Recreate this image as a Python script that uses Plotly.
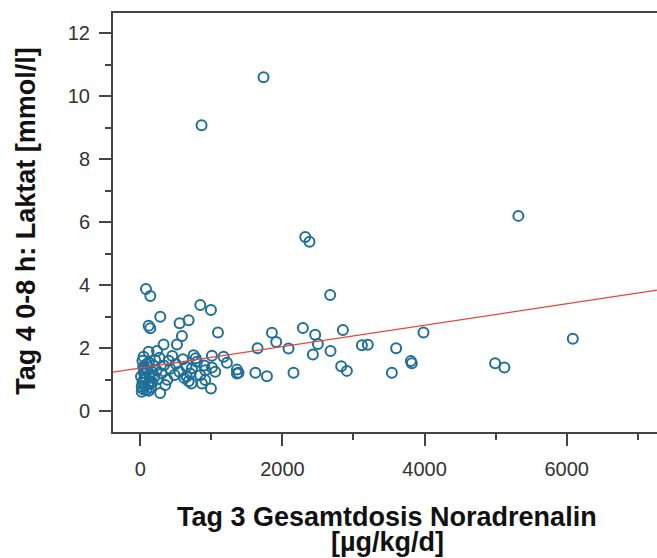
import plotly.graph_objects as go

# Tag 3 Gesamtdosis Noradrenalin [µg/kg/d]
noradrenalin = [
    1734, 862, 2321, 2381, 5320, 2672, 80, 141, 281, 117, 141, 553, 680, 586, 516, 328,
    117, 235, 46, 844, 994, 1093, 3985, 3600, 3807, 3821, 3540, 4993, 5124, 6086,
    1852, 1913, 1650, 2086, 2288, 2461, 2499, 2429, 2677, 2851, 3118, 3202, 2827, 2907,
    1620, 1782, 2156, 1172, 1219, 1360, 1383, 1008, 750, 797, 727, 1008, 914, 844, 914, 994,
    867, 1055, 653, 1360,
    20, 40, 60, 30, 50, 80, 10, 70, 100, 40, 90, 30, 120, 150, 110, 140, 130, 160, 60, 180,
    20, 90, 50, 120, 200, 170, 230, 250, 210, 280, 352, 300, 330, 270, 400, 380, 420, 450,
    500, 480, 550, 600, 620, 650, 700, 680, 720, 780, 900,
]
# Tag 4 0-8 h: Laktat [mmol/l]
laktat = [
    10.6, 9.08, 5.53, 5.38, 6.2, 3.69, 3.88, 3.66, 3.0, 2.71, 2.63, 2.79, 2.89, 2.39, 2.12, 2.12,
    1.89, 1.91, 1.73, 3.37, 3.21, 2.50, 2.50, 2.0, 1.59, 1.52, 1.22, 1.52, 1.39, 2.30,
    2.49, 2.20, 2.00, 1.99, 2.64, 2.43, 2.13, 1.80, 1.91, 2.58, 2.09, 2.11, 1.43, 1.28,
    1.22, 1.11, 1.22, 1.73, 1.54, 1.32, 1.22, 1.76, 1.78, 1.57, 1.36, 1.39, 1.30, 1.14, 0.99, 0.72,
    0.88, 1.25, 1.10, 1.20,
    0.62, 0.70, 0.80, 0.90, 1.00, 1.05, 1.10, 1.20, 1.30, 1.40, 1.50, 1.60, 0.65, 0.75, 0.85, 0.95, 1.15, 1.25, 1.35, 1.45,
    0.78, 0.68, 1.22, 1.55, 1.10, 0.92, 1.30, 1.02, 1.62, 0.58, 0.83, 1.20, 1.45, 1.70, 1.60, 1.00, 1.35, 1.75,
    1.50, 1.15, 1.25, 1.65, 1.05, 1.40, 1.20, 0.95, 0.88, 1.68, 1.45,
]

# linear fit line (intercept, slope)
fit_intercept = 1.37
fit_slope = 0.00034

x_range = [-384, 7271]
y_range = [-0.66, 12.64]
x_ticks = [0, 2000, 4000, 6000]
y_ticks = [0, 2, 4, 6, 8, 10, 12]

x_title_lines = ["Tag 3 Gesamtdosis Noradrenalin", "[µg/kg/d]"]
y_title = "Tag 4 0-8 h: Laktat [mmol/l]"

fit_x = x_range
fit_y = [fit_intercept + fit_slope * v for v in fit_x]

fig = go.Figure()
fig.add_trace(go.Scatter(
    x=noradrenalin, y=laktat, mode="markers",
    marker=dict(symbol="circle-open", size=10, color="#1f6f98", line=dict(width=2, color="#1f6f98")),
    showlegend=False, hoverinfo="x+y",
))
fig.add_trace(go.Scatter(
    x=fit_x, y=fit_y, mode="lines",
    line=dict(color="#e8453c", width=1.2), showlegend=False,
))

axis_common = dict(
    showgrid=False, zeroline=False, showline=True, linecolor="#444", linewidth=2,
    ticks="outside", ticklen=12, tickwidth=2, tickcolor="#444",
    tickfont=dict(family="Liberation Sans, Arial, sans-serif", size=20, color="#333"),
)
fig.update_xaxes(
    range=x_range, tickvals=x_ticks, mirror=True, ticklabelstandoff=6,
    minor=dict(ticks="outside", ticklen=6, tickwidth=2, tickcolor="#444", dtick=1000, tick0=0),
    **axis_common,
)
fig.update_yaxes(
    range=y_range, tickvals=y_ticks, mirror=False, ticklabelstandoff=5,
    minor=dict(ticks="outside", ticklen=6, tickwidth=2, tickcolor="#444", dtick=1, tick0=0),
    **axis_common,
)

title_font = dict(family="Liberation Sans, Arial, sans-serif", size=27, color="#111")
fig.update_layout(
    width=657, height=558,
    margin=dict(l=113, r=0, t=13, b=126),
    paper_bgcolor="white", plot_bgcolor="white",
    annotations=[
        dict(text="<b>%s</b>" % x_title_lines[0], xref="paper", yref="paper",
             x=0.504, y=-0.203, xanchor="center", yanchor="middle", showarrow=False,
             font=title_font),
        dict(text="<b>%s</b>" % x_title_lines[1], xref="paper", yref="paper",
             x=0.504, y=-0.262, xanchor="center", yanchor="middle", showarrow=False,
             font=title_font),
        dict(text="<b>%s</b>" % y_title, xref="paper", yref="paper",
             x=-0.16, y=0.504, xanchor="center", yanchor="middle", showarrow=False,
             textangle=-90, font=dict(family="Liberation Sans, Arial, sans-serif", size=27, color="#111")),
    ],
)

fig.write_html("out.html")
